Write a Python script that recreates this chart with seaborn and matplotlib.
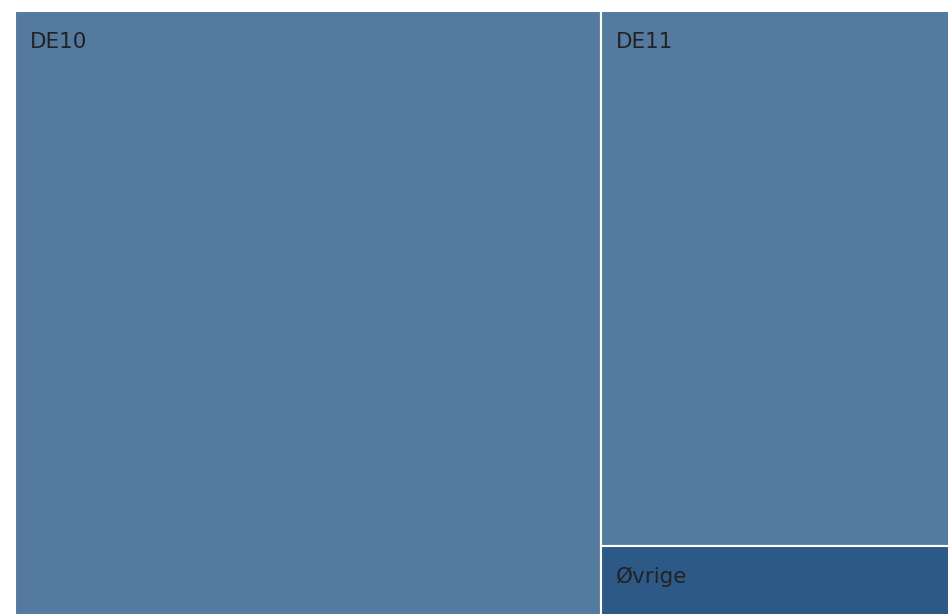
import matplotlib
matplotlib.use("Agg")
import matplotlib.pyplot as plt
import seaborn as sns

labels = ["DE10", "DE11", "Øvrige"]
values = [62.7, 33.0, 4.3]
colors = ["#547aa0", "#547aa0", "#2d5986"]

sns.set_theme(style="white")
plt.rcParams["font.family"] = ["DejaVu Sans"]

W, H = 948, 614
fig = plt.figure(figsize=(W / 100, H / 100), dpi=100)
# axes runs a pixel past the right and bottom edges so no white border shows there
ax = fig.add_axes([15 / W, -1.5 / H, (W - 13.5) / W, (H - 9.5) / H])

total = sum(values)
# first item takes a full-height column, the rest stack in the second column
x0_w = values[0] / total
rest = sum(values[1:])
rects = [(0, 0, x0_w, 1)]
y = 0
for v in values[1:]:
    h = v / rest
    rects.append((x0_w, y, 1 - x0_w, h))
    y += h

for (x, yb, w, h), lab, c in zip(rects, labels, colors):
    ax.bar(x, h, width=w, bottom=yb, align="edge", color=c,
           edgecolor="white", linewidth=1.5)
    ax.annotate(lab, xy=(x, yb), xytext=(10.8, -26.5), textcoords="offset points",
                ha="left", va="baseline", fontsize=15.5, color="#222222")

ax.set_xlim(0, 1)
ax.set_ylim(1, 0)
ax.axis("off")

fig.savefig("out.png", dpi=100)
